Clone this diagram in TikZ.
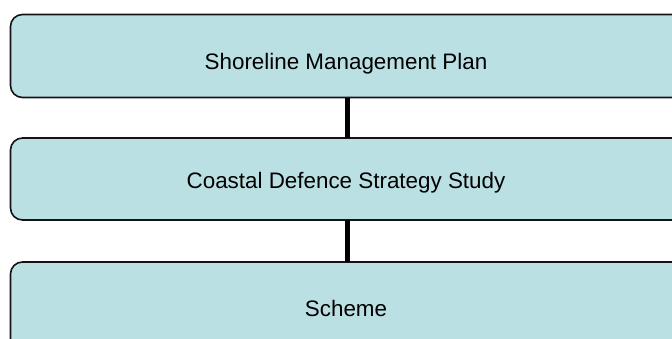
\documentclass[tikz,border=0pt]{standalone}
\usepackage{fontspec}
\setmainfont{Liberation Sans}
\definecolor{boxfill}{RGB}{187,224,227}
\definecolor{boxline}{RGB}{20,20,20}
\begin{document}
\begin{tikzpicture}[x=1pt,y=-1pt,
  tier/.style={draw=boxline, line width=1.6pt, fill=boxfill, rounded corners=12pt,
    minimum width=674pt, inner sep=0pt, outer sep=0pt},
  tierlabel/.style={anchor=base, inner sep=0pt, font=\fontsize{22.4}{26}\selectfont},
  link/.style={line width=5pt, draw=black}]
  \useasboundingbox (0,0) rectangle (672,338);
  \begin{scope}
    \clip (0,0) rectangle (672,338);
    % the three planning tiers
    \node[tier, minimum height=83pt] (smp) at (347.5,56) {};
    \node[tier, minimum height=82pt] (cds) at (347.5,179) {};
    \node[tier, minimum height=92pt] (sch) at (347.5,308) {};
    % links between the tiers
    \draw[link] (smp.south) -- (cds.north);
    \draw[link] (cds.south) -- (sch.north);
  \end{scope}
  \node[tierlabel] (smpt) at (346,69.5) {Shoreline Management Plan};
  \node[tierlabel] (cdst) at (346,188.5) {Coastal Defence Strategy Study};
  \node[tierlabel] (scht) at (346,316.5) {Scheme};
\end{tikzpicture}
\end{document}
